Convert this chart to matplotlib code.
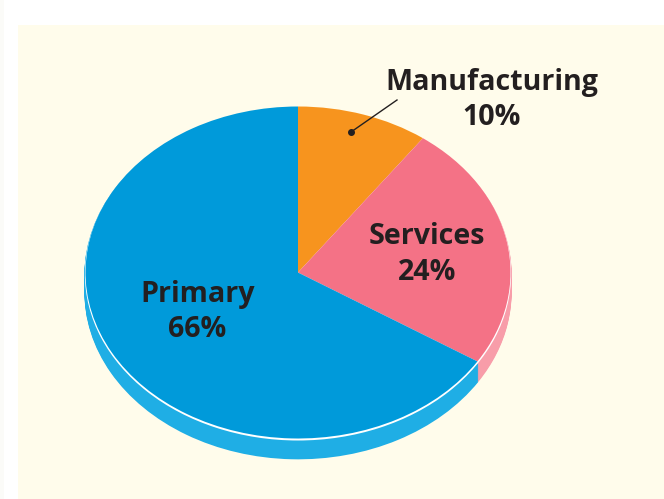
import matplotlib.pyplot as plt
from matplotlib.patches import Rectangle

# shares, clockwise from the top
sectors = ['Manufacturing', 'Services', 'Primary']
shares = [10, 24, 66]
top_colors = ['#F7941E', '#F47286', '#009ADA']
side_colors = ['#F7941E', '#F89DA9', '#1FAEE5']

W, H = 664, 499
cx, cy = 298, 272.5      # pie centre in pixels, from top left
rx, ry = 212.5, 166      # pie radii in pixels
depth = 20


def fx(px):
    return px / W


def fy(py):
    return 1 - py / H


fig = plt.figure(figsize=(W / 100, H / 100), dpi=100, facecolor='white')
plt.rcParams['font.family'] = ['Open Sans', 'DejaVu Sans']

# faint page edge and the cream panel
fig.add_artist(Rectangle((0, 0), fx(4), 1, transform=fig.transFigure, color='#FBFBF8', lw=0, zorder=-2))
fig.add_artist(Rectangle((fx(18), 0), 1 - fx(18), fy(25), transform=fig.transFigure,
                         color='#FFFCEB', lw=0, zorder=-1))

ax = fig.add_axes([0, 0, 1, 1])
ax.patch.set_alpha(0)

# side is the same pie repeated downwards, so slice edges stay vertical
for d in range(depth, 1, -1):
    ax.pie(shares, colors=side_colors, startangle=90, counterclock=False, radius=1.005,
           center=(0, -d / ry), wedgeprops={'linewidth': 0})
# thin white rim, then the top face
ax.pie([sum(shares)], colors=['white'], startangle=90, radius=1.003,
       center=(0, -1.5 / ry), wedgeprops={'linewidth': 0})
ax.pie(shares, colors=top_colors, startangle=90, counterclock=False, radius=1,
       center=(0, 0), wedgeprops={'linewidth': 0})

ax.set_aspect('auto')
ax.set_xlim(-cx / rx, (W - cx) / rx)
ax.set_ylim(-(H - cy) / ry, cy / ry)
ax.axis('off')

labels = [('Manufacturing\n10%', 492, 100),
          ('Services\n24%', 427, 254.5),
          ('Primary\n66%', 197.5, 312)]
for txt, px, py in labels:
    fig.text(fx(px), fy(py), txt, ha='center', va='center', fontsize=20.6, fontweight='bold',
             color='#231F20', linespacing=1.31, zorder=5)

# leader from the label to the orange slice
fig.add_artist(plt.Line2D([fx(351), fx(397)], [fy(132), fy(100)], color='#231F20', lw=1,
                          transform=fig.transFigure, zorder=5))
fig.add_artist(plt.Line2D([fx(351)], [fy(132)], marker='o', ms=4, color='#231F20',
                          transform=fig.transFigure, zorder=5))

fig.savefig('out.png', dpi=100)
